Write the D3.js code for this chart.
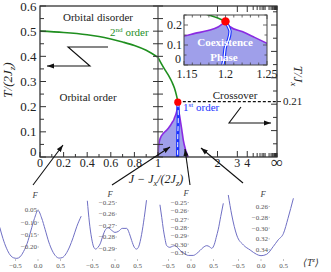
<!DOCTYPE html>
<html>
<head>
<meta charset="utf-8">
<script src="https://cdn.jsdelivr.net/npm/d3@7"></script>
<style>
body { margin: 0; background: #fff; }
svg { display: block; font-family: "Liberation Serif", "DejaVu Serif", serif; }
</style>
</head>
<body>
<div id="chart-area"></div>
<script>
//---DATA
// 2nd order line, [J, T/(2Jz)]
var secondOrderLeft = [[0, 0.5], [0.2, 0.495], [0.4, 0.486], [0.5, 0.479], [0.6, 0.469], [0.7, 0.457], [0.8, 0.443], [0.9, 0.424], [1.0, 0.396]];
var secondOrderRight = [[1.0, 0.396], [1.03, 0.37], [1.0625, 0.346], [1.1, 0.322], [1.133, 0.298], [1.16, 0.274], [1.18, 0.25], [1.19, 0.236], [1.2, 0.218]];
var critical = [1.2, 0.218];
// coexistence boundaries
var coexLeft = [[1.0, 0], [1.003, 0.03], [1.01, 0.058], [1.02, 0.075], [1.05, 0.095], [1.08, 0.107], [1.11, 0.122], [1.14, 0.14], [1.15, 0.145], [1.163, 0.158], [1.179, 0.172], [1.191, 0.19], [1.2, 0.218]];
var coexRight = [[1.206, 0.19], [1.22, 0.167], [1.235, 0.138], [1.25, 0.108], [1.27, 0.067], [1.3, 0.03], [1.318, 0.015], [1.337, 0]];
// 1st order line
var firstOrder = [[1.2, 0.218], [1.203, 0.195], [1.2055, 0.167], [1.2035, 0.125], [1.2, 0.092], [1.1986, 0.05], [1.1973, 0.01], [1.1966, 0]];
var crossoverT = 0.21;

var yTicks = [0, 0.1, 0.2, 0.3, 0.4, 0.5, 0.6];
var yMinor = [0.05, 0.15, 0.25, 0.35, 0.45, 0.55];
var xTicksLeft = [0, 0.2, 0.4, 0.6, 0.8, 1];
var xMinorLeft = [0.1, 0.3, 0.5, 0.7, 0.9];
var xTicksRight = [2, 3, 4];
var xMinorRight = [5, 6, 7, 8, 9, 10, 15, 20, 25, 30, 40, 50, 60, 80, 100, 150, 200, 400, 1000];
var rightTicks = [0.05, 0.1, 0.15, 0.2, 0.25, 0.3, 0.35, 0.4, 0.45, 0.5, 0.55];

var insetXTicks = [1.15, 1.2, 1.25];
var insetXLabels = ["1.15", "1.2", "1.25"];
var insetYTicks = [0, 0.1, 0.2];

// free energy curves, [<T^z>, F]
var fe1 = [[-0.85, -0.12], [-0.78, -0.165], [-0.7, -0.205], [-0.62, -0.232], [-0.54, -0.244], [-0.47, -0.246], [-0.4, -0.24], [-0.32, -0.218], [-0.24, -0.185], [-0.16, -0.135], [-0.08, -0.085], [0, -0.052], [0.08, -0.082], [0.16, -0.13], [0.24, -0.18], [0.32, -0.216], [0.4, -0.238], [0.47, -0.245], [0.54, -0.243], [0.62, -0.228], [0.7, -0.2], [0.78, -0.162], [0.86, -0.118], [0.96, -0.075]];
var fe2 = [[-0.615, -0.2485], [-0.57, -0.267], [-0.52, -0.281], [-0.47, -0.289], [-0.43, -0.2905], [-0.38, -0.289], [-0.33, -0.286], [-0.27, -0.279], [-0.21, -0.2735], [-0.15, -0.272], [-0.08, -0.274], [0, -0.276], [0.08, -0.275], [0.16, -0.2725], [0.26, -0.2725], [0.32, -0.277], [0.37, -0.283], [0.43, -0.289], [0.48, -0.2905], [0.53, -0.288], [0.59, -0.278], [0.65, -0.263], [0.7, -0.248]];
var fe3 = [[-0.69, -0.2527], [-0.65, -0.268], [-0.615, -0.282], [-0.58, -0.293], [-0.54, -0.3018], [-0.47, -0.3038], [-0.41, -0.3025], [-0.36, -0.3018], [-0.3, -0.304], [-0.24, -0.3076], [-0.15, -0.311], [-0.06, -0.3135], [0.05, -0.3135], [0.12, -0.3115], [0.2, -0.3076], [0.27, -0.304], [0.35, -0.3018], [0.41, -0.303], [0.46, -0.305], [0.52, -0.3], [0.56, -0.292], [0.607, -0.282], [0.66, -0.267], [0.718, -0.251]];
var fe4 = [[-0.727, -0.2387], [-0.65, -0.2757], [-0.54, -0.3128], [-0.39, -0.3313], [-0.24, -0.3406], [-0.1, -0.3485], [0, -0.3511], [0.126, -0.3485], [0.27, -0.3344], [0.38, -0.322], [0.5, -0.3096], [0.6, -0.2819], [0.72, -0.2448]];
var fe1Ticks = [-0.05, -0.10, -0.15, -0.20];
var fe1Labels = ["0.05", "\u22120.10", "\u22120.15", "\u22120.20"];
var fe2Ticks = [-0.25, -0.26, -0.27, -0.28, -0.29];
var fe2Labels = ["\u22120.25", "\u22120.26", "\u22120.27", "\u22120.28", "\u22120.29"];
var fe3Ticks = [-0.25, -0.26, -0.27, -0.28, -0.29, -0.30, -0.31];
var fe3Labels = ["\u22120.25", "\u22120.26", "\u22120.27", "\u22120.28", "\u22120.29", "\u22120.30", "\u22120.31"];
var fe4Ticks = [-0.26, -0.28, -0.30, -0.32, -0.34];
var fe4Labels = ["0.26", "\u22120.28", "\u22120.30", "0.32", "0.34"];
var feXTicks = [-0.5, 0, 0.5];
var feXLabels = ["\u22120.5", "0.0", "0.5"];

//---SETUP
var svg = d3.select("#chart-area")
    .append("svg")
    .attr("width", 331)
    .attr("height", 272);

var defs = svg.append("defs");
defs.append("marker")
    .attr("id", "head")
    .attr("markerUnits", "userSpaceOnUse")
    .attr("markerWidth", 7).attr("markerHeight", 6)
    .attr("refX", 7).attr("refY", 3)
    .attr("orient", "auto")
    .append("path").attr("d", "M0,0.5 L7,3 L0,5.5 Z").attr("fill", "#111");

// SCALES
var yT = d3.scaleLinear().domain([0, 0.6]).range([157, 6]);
var xLeft = d3.scaleLinear().domain([0, 1]).range([40, 158]);
var xRightT = d3.scaleLinear().domain([0, 1]).range([158, 277]);
function xJ(j) { return j <= 1 ? xLeft(j) : xRightT(1 - 1 / j); }
var yTJx = d3.scaleLinear().domain([0, 0.572]).range([157, 6]);

var purple = "#8a2be2", fillCol = "#9f9fea", green = "#1f8f1f", blue = "#1a33ff";

// helper for sub/superscripts
function rich(t, parts, size) {
    parts.forEach(function (p) {
        var ts = t.append("tspan").text(p[0]);
        if (p[1] == "sub") ts.attr("dy", size * 0.25).attr("font-size", size * 0.7);
        if (p[1] == "sup") ts.attr("dy", -size * 0.38).attr("font-size", size * 0.65);
        if (p[1] == "back") ts.attr("dy", -size * 0.25);
        if (p[1] == "down") ts.attr("dy", size * 0.38);
    });
}

//---MAIN PHASE DIAGRAM
var lineJ = d3.line().x((d) => xJ(d[0])).y((d) => yT(d[1])).curve(d3.curveMonotoneX);

svg.append("path")
    .attr("d", lineJ(coexLeft.concat(coexRight)) + "Z")
    .attr("fill", fillCol);
svg.append("path").attr("d", lineJ(coexLeft)).attr("fill", "none").attr("stroke", purple).attr("stroke-width", 1.6);
svg.append("path").attr("d", lineJ([critical].concat(coexRight))).attr("fill", "none").attr("stroke", purple).attr("stroke-width", 1.6);

svg.append("path").attr("d", lineJ(secondOrderLeft)).attr("fill", "none").attr("stroke", green).attr("stroke-width", 1.6);
svg.append("path").attr("d", lineJ(secondOrderRight)).attr("fill", "none").attr("stroke", green).attr("stroke-width", 1.6);

var lineFirst = d3.line().x((d) => xJ(d[0])).y((d) => yT(d[1])).curve(d3.curveMonotoneY);
svg.append("path").attr("d", lineFirst(firstOrder)).attr("fill", "none").attr("stroke", blue).attr("stroke-width", 3.2);
svg.append("path").attr("d", lineFirst(firstOrder)).attr("fill", "none").attr("stroke", "#fff").attr("stroke-width", 1).attr("stroke-dasharray", "5,3");

// crossover
svg.append("line")
    .attr("x1", xJ(critical[0])).attr("x2", 277)
    .attr("y1", yTJx(crossoverT)).attr("y2", yTJx(crossoverT))
    .attr("stroke", "#111").attr("stroke-width", 1.3).attr("stroke-dasharray", "3,2");

// frame
svg.append("rect").attr("x", 40).attr("y", 6).attr("width", 237).attr("height", 151)
    .attr("fill", "none").attr("stroke", "#222").attr("stroke-width", 1.2);
svg.append("line").attr("x1", 158).attr("x2", 158).attr("y1", 6).attr("y2", 157)
    .attr("stroke", "#666").attr("stroke-width", 1.4);

var tk = svg.append("g").attr("stroke", "#333").attr("stroke-width", 1);
// left axis & divider ticks
yTicks.concat(yMinor).forEach(function (v) {
    var len = yTicks.indexOf(v) >= 0 ? 6 : 4;
    tk.append("line").attr("x1", 40).attr("x2", 40 + len).attr("y1", yT(v)).attr("y2", yT(v));
    tk.append("line").attr("x1", 158 - 5).attr("x2", 158 + 5).attr("y1", yT(v)).attr("y2", yT(v));
});
// right axis ticks
rightTicks.forEach(function (v, i) {
    var len = i % 2 == 1 ? 6 : 4;
    tk.append("line").attr("x1", 277 - len).attr("x2", 277).attr("y1", yTJx(v)).attr("y2", yTJx(v));
});
tk.append("line").attr("x1", 277).attr("x2", 281).attr("y1", yTJx(crossoverT)).attr("y2", yTJx(crossoverT));
// bottom ticks
xTicksLeft.concat(xMinorLeft).forEach(function (v) {
    var len = xTicksLeft.indexOf(v) >= 0 ? 5 : 3;
    tk.append("line").attr("x1", xLeft(v)).attr("x2", xLeft(v)).attr("y1", 157).attr("y2", 157 - len);
});
xTicksRight.concat(xMinorRight).forEach(function (v) {
    var len = xTicksRight.indexOf(v) >= 0 ? 6 : 4;
    tk.append("line").attr("x1", xJ(v)).attr("x2", xJ(v)).attr("y1", 157).attr("y2", 157 - len);
    tk.append("line").attr("x1", xJ(v)).attr("x2", xJ(v)).attr("y1", 6).attr("y2", 6 + len);
});

// tick labels
var lab = svg.append("g").attr("fill", "#222");
yTicks.forEach(function (v) {
    lab.append("text").attr("x", 36.5).attr("y", v == 0 ? yT(v) - 6 : yT(v))
        .attr("dy", "0.35em").attr("text-anchor", "end").attr("font-size", 13)
        .text(v == 0 ? "0" : d3.format(".1f")(v));
});
xTicksLeft.forEach(function (v) {
    lab.append("text").attr("x", xLeft(v)).attr("y", 166.5).attr("text-anchor", "middle")
        .attr("font-size", 12).text(v == 0 || v == 1 ? d3.format("d")(v) : d3.format(".1f")(v));
});
xTicksRight.forEach(function (v) {
    lab.append("text").attr("x", xJ(v)).attr("y", 166.5).attr("text-anchor", "middle")
        .attr("font-size", 12).text(v);
});
lab.append("text").attr("x", 277).attr("y", 168).attr("text-anchor", "middle")
    .attr("font-size", 17).text("\u221e");
lab.append("text").attr("x", 283).attr("y", yTJx(crossoverT)).attr("dy", "0.35em")
    .attr("font-size", 11).text(d3.format(".2f")(crossoverT));

// axis titles
var yTitle = lab.append("text").attr("transform", "translate(12,80) rotate(-90)")
    .attr("text-anchor", "middle").attr("font-size", 13).attr("font-style", "italic");
rich(yTitle, [["T/(2J", ""], ["z", "sub"], [")", "back"]], 13);
var y2Title = lab.append("text").attr("transform", "translate(294,76) rotate(90)")
    .attr("text-anchor", "middle").attr("font-size", 13).attr("font-style", "italic");
rich(y2Title, [["T/J", ""], ["x", "sub"]], 13);
var xTitle = lab.append("text").attr("x", 156).attr("y", 183)
    .attr("text-anchor", "middle").attr("font-size", 12).attr("font-style", "italic");
rich(xTitle, [["J \u2212 J", ""], ["x", "sub"], ["/(2J", "back"], ["z", "sub"], [")", "back"]], 12);

// region labels
lab.append("text").attr("x", 98).attr("y", 21).attr("text-anchor", "middle").attr("font-size", 11).text("Orbital disorder");
lab.append("text").attr("x", 88).attr("y", 101).attr("text-anchor", "middle").attr("font-size", 11).text("Orbital order");
lab.append("text").attr("x", 235).attr("y", 99).attr("text-anchor", "middle").attr("font-size", 11).text("Crossover");
var t2 = svg.append("text").attr("x", 110).attr("y", 36).attr("font-size", 11).attr("fill", green);
rich(t2, [["2", ""], ["nd", "sup"], [" order", "down"]], 11);
var t1 = svg.append("text").attr("x", 183).attr("y", 111).attr("font-size", 11).attr("fill", blue);
rich(t1, [["1", ""], ["st", "sup"], [" order", "down"]], 11);

// zigzag arrows
svg.append("path").attr("d", "M108,47 L68,47 L90,66 L47,66")
    .attr("fill", "none").attr("stroke", "#111").attr("stroke-width", 1.1).attr("marker-end", "url(#head)");
svg.append("path").attr("d", "M241,107 L229,123 L271,123")
    .attr("fill", "none").attr("stroke", "#111").attr("stroke-width", 1.1).attr("marker-end", "url(#head)");

//---INSET
var xI = d3.scaleLinear().domain([1.15, 1.25]).range([184, 267]);
var yI = d3.scaleLinear().domain([0, 0.25]).range([65, 15]);
defs.append("clipPath").attr("id", "insetClip")
    .append("rect").attr("x", 184).attr("y", 15).attr("width", 83).attr("height", 50);
svg.append("rect").attr("x", 184).attr("y", 15).attr("width", 83).attr("height", 50).attr("fill", "#fff");
var ins = svg.append("g").attr("clip-path", "url(#insetClip)");
var lineI = d3.line().x((d) => xI(d[0])).y((d) => yI(d[1])).curve(d3.curveMonotoneX);
ins.append("path").attr("d", lineI(coexLeft.concat(coexRight)) + "Z").attr("fill", fillCol);
ins.append("path").attr("d", lineI(coexLeft)).attr("fill", "none").attr("stroke", purple).attr("stroke-width", 1.6);
ins.append("path").attr("d", lineI([critical].concat(coexRight))).attr("fill", "none").attr("stroke", purple).attr("stroke-width", 1.6);
ins.append("path").attr("d", lineI(secondOrderRight)).attr("fill", "none").attr("stroke", green).attr("stroke-width", 1.6);
var lineIF = d3.line().x((d) => xI(d[0])).y((d) => yI(d[1])).curve(d3.curveMonotoneY);
ins.append("path").attr("d", lineIF(firstOrder)).attr("fill", "none").attr("stroke", blue).attr("stroke-width", 3.4);
ins.append("path").attr("d", lineIF(firstOrder)).attr("fill", "none").attr("stroke", "#fff").attr("stroke-width", 1.2);
ins.append("text").attr("x", 225).attr("y", 46).attr("text-anchor", "middle").attr("font-size", 11)
    .attr("font-weight", "bold").attr("fill", "#fff").text("Coexistence");
ins.append("text").attr("x", 224).attr("y", 61).attr("text-anchor", "middle").attr("font-size", 11)
    .attr("font-weight", "bold").attr("fill", "#fff").text("Phase");
svg.append("rect").attr("x", 184).attr("y", 15).attr("width", 83).attr("height", 50)
    .attr("fill", "none").attr("stroke", "#444").attr("stroke-width", 1);
var itk = svg.append("g").attr("stroke", "#444").attr("stroke-width", 0.8);
d3.range(0, 0.2501, 0.05).forEach(function (v, i) {
    var len = i % 2 == 0 ? 4 : 2.5;
    itk.append("line").attr("x1", 184).attr("x2", 184 + len).attr("y1", yI(v)).attr("y2", yI(v));
    itk.append("line").attr("x1", 267 - len).attr("x2", 267).attr("y1", yI(v)).attr("y2", yI(v));
});
d3.range(1.15, 1.2501, 0.01).forEach(function (v, i) {
    var len = i % 5 == 0 ? 4 : 2.5;
    itk.append("line").attr("x1", xI(v)).attr("x2", xI(v)).attr("y1", 15).attr("y2", 15 + len);
    itk.append("line").attr("x1", xI(v)).attr("x2", xI(v)).attr("y1", 65).attr("y2", 65 - len);
});
insetYTicks.forEach(function (v) {
    lab.append("text").attr("x", v == 0 ? 181 : 182).attr("y", v == 0 ? yI(v) - 6 : yI(v)).attr("dy", "0.35em")
        .attr("text-anchor", "end").attr("font-size", 12).text(v == 0 ? "0" : d3.format(".1f")(v));
});
insetXTicks.forEach(function (v, i) {
    lab.append("text").attr("x", xI(v) + (i == 0 ? 3 : 0)).attr("y", 78).attr("text-anchor", "middle")
        .attr("font-size", 12).text(insetXLabels[i]);
});

// critical points
svg.append("circle").attr("cx", xJ(critical[0])).attr("cy", yT(critical[1])).attr("r", 3.6).attr("fill", "#ff0000");
svg.append("circle").attr("cx", xI(critical[0])).attr("cy", yI(critical[1])).attr("r", 4.2).attr("fill", "#ff0000");

//---FREE ENERGY PANELS
var panels = [
    { data: fe1, ticks: fe1Ticks, labels: fe1Labels, x0: 38, yr: [210, 247], lx: 37, fx: 35, fy: 198 },
    { data: fe2, ticks: fe2Ticks, labels: fe2Labels, x0: 115, yr: [202.5, 248.5], lx: 115, fx: 110, fy: 197 },
    { data: fe3, ticks: fe3Ticks, labels: fe3Labels, x0: 191, yr: [202.5, 252.5], lx: 187, fx: 186, fy: 196 },
    { data: fe4, ticks: fe4Ticks, labels: fe4Labels, x0: 261, yr: [206.5, 249.7], lx: 268, fx: 263, fy: 197 }
];
panels.forEach(function (p) {
    var x = d3.scaleLinear().domain([-1, 1]).range([p.x0 - 45, p.x0 + 45]);
    var y = d3.scaleLinear().domain([p.ticks[0], p.ticks[p.ticks.length - 1]]).range(p.yr);
    var g = svg.append("g");
    g.append("path")
        .attr("d", d3.line().x((d) => x(d[0])).y((d) => y(d[1])).curve(d3.curveMonotoneX)(p.data))
        .attr("fill", "none").attr("stroke", "#6f6fc4").attr("stroke-width", 1);
    p.ticks.forEach(function (v, i) {
        g.append("text").attr("x", p.lx).attr("y", y(v)).attr("dy", "0.35em").attr("text-anchor", "end")
            .attr("font-size", 7).attr("fill", "#555").text(p.labels[i]);
        g.append("line").attr("x1", p.lx + 0.5).attr("x2", p.lx + 2).attr("y1", y(v)).attr("y2", y(v))
            .attr("stroke", "#999").attr("stroke-width", 0.6);
    });
    feXTicks.forEach(function (v, i) {
        g.append("text").attr("x", x(v)).attr("y", 268).attr("text-anchor", "middle")
            .attr("font-size", 7).attr("fill", "#555").text(feXLabels[i]);
        g.append("line").attr("x1", x(v)).attr("x2", x(v)).attr("y1", 259).attr("y2", 261)
            .attr("stroke", "#999").attr("stroke-width", 0.6);
    });
    g.append("text").attr("x", p.fx).attr("y", p.fy).attr("text-anchor", "middle")
        .attr("font-size", 8.5).attr("font-style", "italic").attr("fill", "#444").text("F");
});
var tz = svg.append("text").attr("x", 311).attr("y", 266).attr("text-anchor", "middle")
    .attr("font-size", 10).attr("font-style", "italic").attr("fill", "#333");
rich(tz, [["\u27e8T", ""], ["z", "sup"], ["\u27e9", "down"]], 10);

// arrows to free energy panels
var arrows = [[33, 185, 63, 145], [112, 185, 170, 147], [190, 185, 185, 149], [243, 183, 201, 148]];
arrows.forEach(function (a) {
    svg.append("line").attr("x1", a[0]).attr("y1", a[1]).attr("x2", a[2]).attr("y2", a[3])
        .attr("stroke", "#111").attr("stroke-width", 1.1).attr("marker-end", "url(#head)");
});
</script>
</body>
</html>
